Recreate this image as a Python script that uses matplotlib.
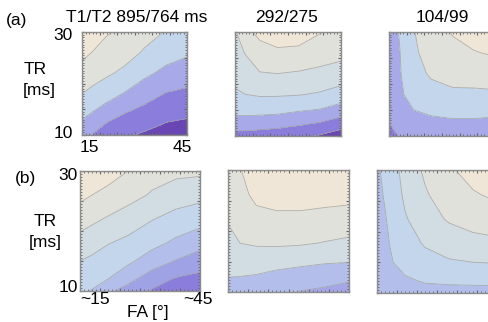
import matplotlib
matplotlib.use("Agg")
import matplotlib.pyplot as plt
import numpy as np
from matplotlib.ticker import MultipleLocator

plt.rcParams['font.family'] = ['Liberation Sans', 'DejaVu Sans']

# grid of the maps
FA = [15, 18, 22, 27, 33, 39, 45]      # flip angle [deg]
TR = [10, 12, 15, 18, 22, 26, 30]      # repetition time [ms]

# contour values, one list per FA column (TR ascending)
a1_cols = [[2.4, 2.8, 3.4, 4.0, 4.62, 5.25, 5.8],
           [1.95, 2.45, 3.12, 3.75, 4.4, 4.97, 5.5],
           [1.55, 1.9, 2.7, 3.4, 4.15, 4.62, 5.1],
           [1.15, 1.5, 2.2, 2.95, 3.8, 4.4, 4.8],
           [0.85, 1.25, 1.8, 2.4, 3.2, 3.88, 4.35],
           [0.55, 0.92, 1.45, 1.95, 2.75, 3.4, 3.95],
           [0.45, 0.8, 1.3, 1.8, 2.45, 3.15, 3.7]]
a2_cols = [[1.6, 2.4, 3.3, 3.85, 4.35, 4.65, 4.9],
           [1.6, 2.4, 3.35, 4.0, 4.55, 5.05, 5.7],
           [1.55, 2.3, 3.35, 4.1, 4.95, 5.55, 6.3],
           [1.45, 2.2, 3.3, 4.1, 5.0, 5.8, 6.6],
           [1.2, 2.0, 3.1, 4.05, 4.9, 5.75, 6.5],
           [0.9, 1.75, 2.95, 3.9, 4.75, 5.5, 6.05],
           [0.5, 1.3, 2.55, 3.6, 4.55, 5.3, 5.7]]
a3_cols = [[0.6, 0.9, 1.3, 1.45, 1.5, 1.55, 1.6],
           [1.05, 1.4, 1.7, 1.85, 1.93, 1.97, 2.05],
           [1.3, 1.6, 2.0, 2.35, 2.6, 2.8, 2.95],
           [1.5, 1.75, 2.15, 2.6, 3.15, 3.5, 3.7],
           [1.55, 1.8, 2.25, 2.8, 3.4, 3.8, 4.05],
           [1.55, 1.8, 2.25, 2.8, 3.45, 3.95, 4.35],
           [1.5, 1.75, 2.2, 2.85, 3.5, 4.1, 4.5]]
b1_cols = [[3.17, 3.5, 4.0, 4.62, 5.45, 6.25, 6.9],
           [2.95, 3.3, 3.8, 4.4, 5.2, 6.0, 6.7],
           [2.2, 3.0, 3.5, 4.05, 4.9, 5.7, 6.45],
           [1.6, 2.3, 3.2, 3.75, 4.55, 5.35, 6.0],
           [0.9, 1.5, 2.5, 3.3, 4.05, 4.9, 5.4],
           [0.5, 0.9, 1.95, 2.8, 3.65, 4.5, 5.25],
           [0.35, 0.7, 1.5, 2.35, 3.4, 4.3, 5.2]]
b2_cols = [[1.75, 1.95, 2.3, 2.65, 3.1, 3.5, 3.8],
           [1.7, 1.9, 2.45, 3.0, 3.4, 3.7, 3.95],
           [1.55, 1.8, 2.5, 3.1, 3.7, 4.25, 4.6],
           [1.3, 1.6, 2.35, 3.15, 3.8, 4.4, 4.8],
           [0.95, 1.5, 2.2, 3.1, 3.8, 4.4, 4.8],
           [0.8, 1.3, 2.1, 2.95, 3.7, 4.35, 4.75],
           [0.55, 1.1, 2.05, 2.8, 3.6, 4.3, 4.7]]
b3_cols = [[0.5, 0.65, 0.75, 0.8, 0.82, 0.85, 0.87],
           [0.75, 0.85, 0.93, 0.99, 1.05, 1.15, 1.35],
           [0.75, 0.92, 1.2, 1.5, 1.9, 2.2, 2.4],
           [0.8, 1.05, 1.6, 2.1, 2.6, 2.9, 3.15],
           [0.8, 1.1, 1.9, 2.45, 3.1, 3.5, 3.85],
           [0.75, 1.15, 2.0, 2.7, 3.35, 3.9, 4.4],
           [0.7, 1.2, 2.05, 2.8, 3.5, 4.2, 4.7]]

titles = ['T1/T2 895/764 ms', '292/275', '104/99']

# band colours
dark, purple, lav, lav2 = '#6a45b4', '#8b7ddc', '#a8a9e8', '#b3bfea'
blue, gblue, gray, beige = '#c3d6ec', '#d2dce3', '#e1e1dc', '#f0e6d7'

W, H = 488, 322
fig = plt.figure(figsize=(W / 100, H / 100), dpi=100)


def px_axes(x0, y0, x1, y1):
    return fig.add_axes([x0 / W, 1 - y1 / H, (x1 - x0) / W, (y1 - y0) / H])


def put(x, y, s, size=12.5, ha='center'):
    fig.text(x / W, 1 - y / H, s, ha=ha, va='center', fontsize=size)


panels = [
    ((82, 32, 187, 135), a1_cols, [dark, purple, lav, blue, gray, beige]),
    ((235, 32, 341, 136), a2_cols, [dark, purple, lav, blue, gblue, gray, beige]),
    ((389, 32, 495, 136), a3_cols, [purple, lav, blue, gray, beige]),
    ((80, 171, 200, 291), b1_cols, [purple, '#a0a2e6', lav2, blue, gblue, gray, beige]),
    ((228, 170, 349, 292), b2_cols, ['#a5a6e8', lav2, gblue, gray, beige]),
    ((377, 170, 497, 293), b3_cols, [lav2, blue, gblue, gray, beige]),
]

for box, cols, colors in panels:
    ax = px_axes(*box)
    Z = np.array(cols).T
    levels = np.arange(len(colors) + 1)
    ax.contourf(FA, TR, Z, levels=levels, colors=colors)
    ax.contour(FA, TR, Z, levels=levels[1:-1], colors='#a0a0a0',
               linewidths=0.6, alpha=0.8)
    ax.set_xlim(15, 45)
    ax.set_ylim(10, 30)
    ax.xaxis.set_major_locator(MultipleLocator(5))
    ax.xaxis.set_minor_locator(MultipleLocator(1))
    ax.yaxis.set_major_locator(MultipleLocator(5))
    ax.yaxis.set_minor_locator(MultipleLocator(0.5))
    ax.tick_params(which='both', direction='in', top=True, right=True,
                   labelbottom=False, labelleft=False, color='#666666')
    ax.tick_params(which='major', length=2.5, width=0.8)
    ax.tick_params(which='minor', length=1.3, width=0.6)
    for sp in ax.spines.values():
        sp.set_color('#8c8c8c')
        sp.set_linewidth(1.0)

# row (a) labels
put(17, 20, '(a)')
put(137, 17, titles[0])
put(287, 17, titles[1])
put(442, 17, titles[2])
put(63, 35, '30')
put(63, 133, '10')
put(35, 70, 'TR')
put(39, 91, '[ms]')
put(89, 147, '15')
put(182, 147, '45')

# row (b) labels
put(25, 178, '(b)')
put(68, 176, '30')
put(68, 288, '10')
put(45, 221, 'TR')
put(45, 243, '[ms]')
put(95, 299, '~15')
put(198, 299, '~45')
put(148, 313, 'FA [°]')

fig.savefig('out.png', dpi=100)
